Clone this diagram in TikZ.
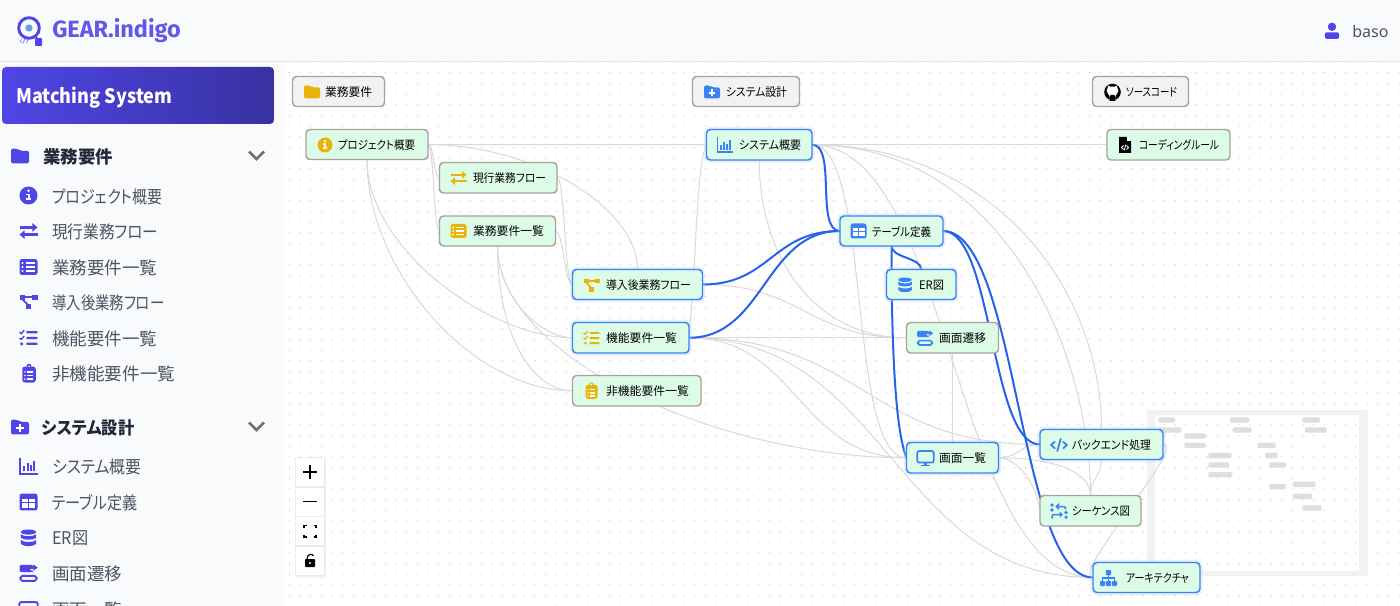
\documentclass[tikz,border=0pt]{standalone}
\usepackage{fontspec}
\usepackage{graphicx}
\setmainfont{Noto Sans CJK JP}[RawFeature=+palt]
\newfontfamily\latinf{Noto Sans}
\newfontfamily\logof{Fira Sans}
\usetikzlibrary{shadings}
\definecolor{ind}{HTML}{4F46E5}
\definecolor{ylw}{HTML}{EAB308}
\definecolor{blu}{HTML}{3B82F6}
\definecolor{edgeg}{HTML}{D9D9D9}
\definecolor{edgeb}{HTML}{2563EB}
\definecolor{nodegr}{HTML}{DCFCE7}
\definecolor{bordg}{HTML}{A8A29E}
\definecolor{side}{HTML}{F9FAFC}
\definecolor{txt}{HTML}{4B5563}
\definecolor{dark}{HTML}{1F2937}
\pgfdeclarelayer{under}
\pgfdeclarelayer{edges}
\pgfsetlayers{under,edges,main}
\newcommand{\fs}[1]{\fontsize{\fpeval{#1*0.75}pt}{\fpeval{#1*0.9}pt}\selectfont}
\newcommand{\twd}[2]{\resizebox{\fpeval{#1*0.75}pt}{\height}{#2}}
\tikzset{
  x=0.75pt,y=-0.75pt,
  lw/.style={line width=\fpeval{#1*0.75*\ics}pt},
  gedge/.style={draw=edgeg,line width=0.75pt},
  bedge/.style={draw=edgeb,line width=1.5pt},
  nodebox/.style={draw=bordg,fill=nodegr,line width=1.1pt,rounded corners=3pt,inner sep=0,outer sep=0},
  hibox/.style={draw=blu,fill=nodegr,line width=1.1pt,rounded corners=3pt,inner sep=0,outer sep=0,
    preaction={draw=blu!35,line width=4pt,opacity=.35}},
  groupbox/.style={draw=bordg,fill=gray!10,line width=1.1pt,rounded corners=3pt,inner sep=0,outer sep=0},
  ntext/.style={anchor=west,inner sep=0,outer sep=0,text=black,font=\fs{11.7}},
  itemtext/.style={anchor=west,inner sep=0,text=txt,font=\fs{17.5}},
  headtext/.style={anchor=west,inner sep=0,text=dark,font=\fs{17.5}\bfseries},
  ctrlbox/.style={draw=black!8,fill=white,line width=.5pt,inner sep=0,outer sep=0},
}
\newcommand{\ico}[4]{\begin{scope}[shift={(#2,#3)},scale=#4/16]\def\ics{#4/16}\csname ic#1\endcsname\end{scope}}
\newcommand{\icoc}[5]{\begin{scope}[shift={(#2,#3)},scale=#4/16]\def\ics{#4/16}\colorlet{icc}{#5}\csname ic#1\endcsname\end{scope}}
\newcommand{\icinfo}{\fill[icc] (0,0) circle (8);
  \fill[white] (0,-4.2) circle (1.3); \fill[white] (-1.8,-1.6) rectangle (1.1,-.2); \fill[white] (-.7,-1.6) rectangle (1.1,3.2); \fill[white] (-1.9,2.6) rectangle (2,4.2);}
\newcommand{\icexch}{\draw[icc,lw=2] (-8,-3.2)--(6,-3.2); \draw[icc,lw=2] (8,3.2)--(-6,3.2);
  \fill[icc] (3.5,-7)--(8,-3.2)--(3.5,.6)--cycle; \fill[icc] (-3.5,-.6)--(-8,3.2)--(-3.5,7)--cycle;}
\newcommand{\iclist}{\fill[icc,rounded corners=1.4] (-8,-7)rectangle(8,7);
  \foreach \yy in {-3.5,0,3.5}{\fill[white] (-5.3,\yy) circle (1); \fill[white] (-2.6,\yy-.8) rectangle (5.5,\yy+.8);}}
\newcommand{\icproj}{\fill[icc] (-8,-6.5)rectangle(-3,-2); \fill[icc] (3,-6.5)rectangle(8,-2); \fill[icc] (-2.5,2)rectangle(2.5,6.5);
  \draw[icc,lw=1.6] (-3,-4.2)--(3,-4.2); \draw[icc,lw=1.6] (-5,-2)--(-.5,2.5);}
\newcommand{\ictask}{\foreach \yy in {-5.2,0,5.2}{\fill[icc,rounded corners=.5] (-2,\yy-1)rectangle(8,\yy+1);}
  \draw[icc,lw=1.2] (-8,-5.2)--(-6.4,-3.8)--(-3.8,-7); \draw[icc,lw=1.2] (-8,0)--(-6.4,1.2)--(-3.8,-1.8); \fill[icc] (-6,5.2) circle (1.5);}
\newcommand{\icclip}{\fill[icc,rounded corners=2] (-6,-6.2)rectangle(6,8); \fill[icc] (0,-6.5) circle (2.2);
  \fill[white] (0,-6.5) circle (.8);
  \foreach \yy in {-1.4,1.9,5}{\fill[white] (-3.6,\yy) circle (.75); \fill[white] (-1.8,\yy-.6) rectangle (3.8,\yy+.6);}}
\newcommand{\icfold}{\fill[icc,rounded corners=1.5] (-8,-6.5)--(-2,-6.5)--(.3,-4.5)--(8,-4.5)--(8,6.5)--(-8,6.5)--cycle;}
\newcommand{\icfoldp}{\icfold \fill[white] (-.8,-2.5)rectangle(.8,4); \fill[white] (-3.3,.0)rectangle(3.3,1.6);}
\newcommand{\icchart}{\draw[icc,lw=1.6] (-7.5,-7.5)--(-7.5,6.8)--(8,6.8);
  \fill[icc] (-4.6,.3)rectangle(-3,4.6); \fill[icc] (-1.6,-2.5)rectangle(0,4.6); \fill[icc] (1.3,-.7)rectangle(2.9,4.6); \fill[icc] (4.2,-4.5)rectangle(5.8,4.6);}
\newcommand{\ictable}{\fill[icc,rounded corners=1.8] (-8,-7.5)rectangle(8,7.5);
  \fill[white] (-6,-3)rectangle(-.8,-.3); \fill[white] (.8,-3)rectangle(6,-.3); \fill[white] (-6,1.3)rectangle(-.8,5.5); \fill[white] (.8,1.3)rectangle(6,5.5);}
\newcommand{\icdb}{\fill[icc] (0,-5.6) ellipse (7.2 and 2.4);
  \fill[icc] (-7.2,-3.6) .. controls (-5,-1) and (5,-1) .. (7.2,-3.6) -- (7.2,-.2) .. controls (5,2.2) and (-5,2.2) .. (-7.2,-.2)--cycle;
  \fill[icc] (-7.2,1.9) .. controls (-5,4.4) and (5,4.4) .. (7.2,1.9) -- (7.2,5.5) .. controls (5,8.4) and (-5,8.4) .. (-7.2,5.5)--cycle;}
\newcommand{\icroute}{\fill[icc,rounded corners=1.6] (-8,-7.2)--(4,-7.2)--(4,-4.8)--(1,-4.8)--(1,-2.2)--(4,-2.2)--(4,-.8)--(-8,-.8)--cycle;
  \fill[icc] (4.6,-5.8) rectangle (1.5,-3.9); \fill[icc] (4.4,-7.6)--(8.2,-4.8)--(4.4,-2)--cycle;
  \draw[icc,lw=1.7,rounded corners=1.4] (-7.2,2.6) rectangle (7.2,7);}
\newcommand{\icdesk}{\draw[icc,lw=1.7,rounded corners=1.5] (-8.2,-7)rectangle(8.2,4.5); \fill[icc] (-1.5,4.5)rectangle(1.5,7); \fill[icc] (-4.2,6.5)rectangle(4.2,8);}
\newcommand{\iccode}{\draw[icc,lw=1.9,line cap=round,line join=round] (-4.5,-3.5)--(-8.4,0)--(-4.5,3.5); \draw[icc,lw=1.9,line cap=round,line join=round] (4.5,-3.5)--(8.4,0)--(4.5,3.5); \draw[icc,lw=1.9,line cap=round] (1.8,-6.5)--(-1.8,6.5);}
\newcommand{\icseq}{\fill[icc] (-7,-6) circle (1.8); \fill[icc] (-7,-1) circle (1.8); \fill[icc] (7,1.5) circle (1.8); \fill[icc] (7,6.2) circle (1.8);
  \draw[icc,lw=1.5,rounded corners=1.5] (6.5,-1.5)--(6.5,-4.5)--(-2,-4.5); \fill[icc] (0,-8)--(-3.6,-4.5)--(0,-1)--cycle;
  \draw[icc,lw=1.5,rounded corners=1.5] (-7,7.5)--(-7,3.5)--(2,3.5); \fill[icc] (.5,.4)--(4,3.5)--(.5,6.6)--cycle;}
\newcommand{\icsite}{\fill[icc,rounded corners=.6] (-2.6,-8)rectangle(2.6,-3); \fill[icc,rounded corners=.6] (-8.5,3)rectangle(-3.5,8); \fill[icc,rounded corners=.6] (-2.6,3)rectangle(2.6,8); \fill[icc,rounded corners=.6] (3.5,3)rectangle(8.5,8);
  \draw[icc,lw=1.2] (-6,3)--(-6,0)--(6,0)--(6,3); \draw[icc,lw=1.2] (0,-3)--(0,3);}
\newcommand{\icfile}{\fill[black] (-6,-8)--(2,-8)--(6,-4)--(6,8)--(-6,8)--cycle; \fill[white] (2,-8)--(2,-4)--(6,-4)--(6,-4.6)--(2.6,-8)--cycle;
  \draw[white,lw=.8] (-1.5,.5)--(-3.5,2.5)--(-1.5,4.5); \draw[white,lw=.8] (1.5,.5)--(3.5,2.5)--(1.5,4.5); \draw[white,lw=.8] (.8,-.3)--(-.8,5.3);}
\newcommand{\icgit}{\fill[black] (0,0) circle (8.3);
  \fill[white] (-2.8,7) .. controls (-2.8,3.5) and (-3.4,3) .. (-4.2,2.2) .. controls (-6.6,.5) and (-6.2,-3) .. (-4.8,-4.2) .. controls (-5.1,-5.2) and (-5,-6) .. (-4.5,-6.4) .. controls (-3.7,-6.4) and (-2.6,-5.6) .. (-2.3,-5.3) .. controls (-.8,-5.6) and (.8,-5.6) .. (2.3,-5.3) .. controls (2.6,-5.6) and (3.7,-6.4) .. (4.5,-6.4) .. controls (5,-6) and (5.1,-5.2) .. (4.8,-4.2) .. controls (6.2,-3) and (6.6,.5) .. (4.2,2.2) .. controls (3.4,3) and (2.8,3.5) .. (2.8,7)--(2.8,9)--(-2.8,9)--cycle;
  \fill[black] (-2.8,5)--(-2.8,9)--(2.8,9)--(2.8,5)--(1.8,3)--(-1.8,3)--cycle;}
\newcommand{\icuser}{\fill[icc] (0,-4.2) circle (4.2); \fill[icc,rounded corners=1.8] (-7.2,8)--(-7.2,5) .. controls (-7.2,2.3) and (-5,1.3) .. (-3,1.3)--(3,1.3) .. controls (5,1.3) and (7.2,2.3) .. (7.2,5)--(7.2,8)--cycle;}
\begin{document}
\begin{tikzpicture}
\useasboundingbox (0,0) rectangle (1400,606);
\clip (0,0) rectangle (1400,606);
\begin{pgfonlayer}{under}
\fill[white] (0,0) rectangle (1400,606);
\foreach \xx in {0,...,105}{\foreach \yy in {0,...,52}{
  \fill[black!25] (278.7+\xx*10.67,62+\yy*10.67) circle (.55);}}
\fill[black!5,even odd rule] (1147,410) rectangle (1368,576) (1155,415) rectangle (1359,571);
\foreach \a/\b/\c/\d in {835/52/885/68,1050/52/1108/68,1267/52/1320/68,835/82/905/98,913/100/978/116,1058/82/1115/98,1275/82/1340/98,913/128/977/144,1132/128/1187/144,985/158/1055/175,1155/158/1193/175,985/187/1048/203,1167/187/1218/203,985/216/1056/232,1167/252/1217/268,1238/245/1306/261,1238/281/1296/297,1268/316/1325/332}{
  \fill[black!13,rounded corners=1] (880+\a/3,400+\b/3) rectangle (880+\c/3,400+\d/3);}
\end{pgfonlayer}
\fill[side] (0,62) rectangle (280,606);
\fill[black!2] (280,62) rectangle (284,606);
\fill[side] (0,0) rectangle (1400,61);
\fill[black!10] (0,61) rectangle (1400,62);
\begin{scope}[shift={(29,28)}]
\draw[ind,line width=2.2pt] (0,0) circle (10.3);
\fill[cyan!60!blue!60] (0,0) circle (3.7);
\draw[ind,line width=1pt] (6,8) -- (9,11);
\fill[ind,rounded corners=.6] (6,10) rectangle (13,18);
\draw[ind!70,line width=.5pt] (-7,11)--(-9,13)--(-7,15) (-3,11)--(-1,13)--(-3,15) (-4,10.5)--(-6,15.5);
\end{scope}
\node[anchor=west,inner sep=0,text=ind!90!white,font=\logof\fs{23.5}\bfseries] (logotxt) at (52,31) {GEAR.indigo};
\icoc{user}{1332}{31}{16}{ind}
\node[anchor=west,inner sep=0,text=txt,font=\latinf\fs{16}] (usr) at (1352,32) {baso};
\shade[left color=ind,right color=ind!70!black,rounded corners=3pt] (2,67) rectangle (274,124);
\node[anchor=west,inner sep=0,text=white,font=\fs{20}\bfseries] (title) at (16,98) {\twd{156}{Matching System}};
\icoc{fold}{20}{156}{18}{ind}
\node[headtext] (h1) at (43,156.5) {\twd{70}{業務要件}};
\draw[black!55,line width=2pt] (249,151.5)--(256.5,159)--(264,151.5);
\icoc{info}{28.5}{195.5}{18}{ind}
\node[itemtext] (i1) at (52,196.5) {\twd{110}{プロジェクト概要}};
\icoc{exch}{28.5}{231}{18}{ind}
\node[itemtext] (i2) at (52,232) {\twd{106}{現行業務フロー}};
\icoc{list}{28.5}{267}{18}{ind}
\node[itemtext] (i3) at (52,267.5) {\twd{105}{業務要件一覧}};
\icoc{proj}{28.5}{302}{18}{ind}
\node[itemtext] (i4) at (52,303) {\twd{112}{導入後業務フロー}};
\icoc{task}{28.5}{338}{18}{ind}
\node[itemtext] (i5) at (52,338.5) {\twd{105}{機能要件一覧}};
\icoc{clip}{29}{373.5}{18}{ind}
\node[itemtext] (i6) at (52,374) {\twd{123}{非機能要件一覧}};
\icoc{foldp}{20}{427}{18}{ind}
\node[headtext] (h2) at (42,427.5) {\twd{92}{システム設計}};
\draw[black!55,line width=2pt] (249,422.5)--(256.5,430)--(264,422.5);
\icoc{chart}{28.5}{466}{18}{ind}
\node[itemtext] (j1) at (52,467) {\twd{89}{システム概要}};
\icoc{table}{28.5}{502}{18}{ind}
\node[itemtext] (j2) at (52,503) {\twd{85}{テーブル定義}};
\icoc{db}{28.5}{538}{17}{ind}
\node[itemtext] (j3) at (52,538.5) {\twd{36}{ER図}};
\icoc{route}{28.5}{573}{18}{ind}
\node[itemtext] (j4) at (52,574) {\twd{70}{画面遷移}};
\icoc{desk}{28.5}{610}{18}{ind}
\node[itemtext] (j5) at (52,610) {\twd{70}{画面一覧}};
\newcommand{\gn}[6]{\node[#1,minimum width={\fpeval{(#5-#3)*0.75}pt},minimum height={\fpeval{(#6-#4)*0.75}pt}] (#2) at ({(#3+#5)/2},{(#4+#6)/2}) {};}
\gn{groupbox}{g1}{292.5}{76.5}{384.5}{106.5}
\gn{groupbox}{g2}{692.5}{76.5}{799.5}{106.5}
\gn{groupbox}{g3}{1092.5}{76.5}{1188.5}{106.5}
\gn{nodebox}{proj}{306}{129.5}{428}{159.5}
\gn{nodebox}{cur}{439.5}{162.5}{557}{193}
\gn{nodebox}{req}{439.5}{216}{555.5}{246}
\gn{hibox}{after}{572.5}{269.5}{702.5}{299.5}
\gn{hibox}{func}{572.5}{322.5}{689}{353}
\gn{nodebox}{nonf}{572.5}{375.5}{701}{406}
\gn{hibox}{sys}{706.5}{129.5}{812}{160}
\gn{hibox}{tbl}{840}{216}{943}{246}
\gn{hibox}{er}{886.5}{269.5}{956}{299.5}
\gn{nodebox}{trans}{906.5}{322.5}{998.5}{353}
\gn{hibox}{scr}{906.5}{442.5}{998.5}{473}
\gn{hibox}{back}{1040}{429.5}{1163}{459.5}
\gn{nodebox}{seq}{1040}{495.5}{1141}{526}
\gn{hibox}{arch}{1093}{562.5}{1200}{592.5}
\gn{nodebox}{rule}{1107}{129.5}{1230}{160}
\begin{pgfonlayer}{edges}
\foreach \s/\t/\c in {proj.east/sys.west/0,proj.east/cur.west/6,proj.east/req.west/6,cur.east/after.west/8,req.east/after.west/8,
  func.east/trans.west/0,after.east/trans.west/100,func.east/scr.west/108,func.east/back.west/175,func.east/arch.west/200,
  sys.east/rule.west/0,sys.east/scr.west/60,sys.east/arch.west/140,back.east/arch.west/25,scr.east/back.west/20}{
  \draw[gedge] (\s) .. controls +(\c,0) and +(-\c,0) .. (\t);}
\draw[gedge] (func.east) .. controls +(8,-90) and +(-10,20) .. (sys.west);
\draw[gedge] (scr.east) .. controls +(20,0) and +(-3,-25) .. (seq.west);
\draw[gedge] (proj.east) .. controls +(105,0) and +(0,-62) .. (after.north);
\draw[gedge] (proj.south) .. controls +(0,90) and +(-82,0) .. (func.west);
\draw[gedge] (proj.south) .. controls +(0,110) and +(-102,0) .. (nonf.west);
\draw[gedge] (req.south) .. controls +(0,50) and +(-32,0) .. (func.west);
\draw[gedge] (req.south) .. controls +(0,90) and +(-40,0) .. (nonf.west);
\draw[gedge] (req.south) .. controls +(0,110) and +(-190,0) .. (scr.west);
\draw[gedge] (sys.south) .. controls +(0,100) and +(-90,0) .. (trans.west);
\draw[gedge] (sys.east) .. controls +(190,0) and +(0,-145) .. (seq.north);
\draw[gedge] (sys.east) .. controls +(180,0) and +(0,-142) .. (back.north);
\draw[gedge] (back.south) .. controls +(0,18) and +(0,-18) .. (seq.north);
\draw[gedge] (trans.south) -- (scr.north);
\draw[gedge] (scr.east) .. controls +(52,0) and +(0,-25) .. (seq.north);
\draw[bedge] (sys.east) .. controls +(25,0) and +(-25,0) .. (tbl.west);
\draw[bedge] (after.east) .. controls +(68,0) and +(-68,0) .. (tbl.west);
\draw[bedge] (func.east) .. controls +(75,0) and +(-75,0) .. (tbl.west);
\draw[bedge] (tbl.south) .. controls +(0,12) and +(0,-12) .. (er.north);
\draw[bedge] (tbl.south) .. controls +(0,104) and +(-11,-27) .. (scr.west);
\draw[bedge] (tbl.east) .. controls +(50,0) and +(-50,0) .. (back.west);
\draw[bedge] (tbl.east) .. controls +(75,0) and +(-75,0) .. (arch.west);
\end{pgfonlayer}
\icoc{fold}{312}{92}{16}{ylw}   \node[ntext] (tg1) at (325,92) {\twd{47}{業務要件}};
\icoc{foldp}{712}{92}{16}{blu}    \node[ntext] (tg2) at (726,92) {\twd{61}{システム設計}};
\ico{git}{1112.5}{92}{16}         \node[ntext] (tg3) at (1126,92) {\twd{51}{ソースコード}};
\icoc{info}{325}{145}{15}{ylw}    \node[ntext] (tproj) at (338,145) {\twd{77}{プロジェクト概要}};
\icoc{exch}{458.5}{178}{16}{ylw}  \node[ntext] (tcur) at (473,178) {\twd{73}{現行業務フロー}};
\icoc{list}{458.5}{231}{16}{ylw}  \node[ntext] (treq) at (473,231.5) {\twd{71}{業務要件一覧}};
\icoc{proj}{591.5}{285}{16}{ylw}  \node[ntext] (tafter) at (606,285) {\twd{85}{導入後業務フロー}};
\icoc{task}{591.5}{338}{16}{ylw}  \node[ntext] (tfunc) at (606,338) {\twd{71}{機能要件一覧}};
\icoc{clip}{591.5}{391}{16}{ylw}  \node[ntext] (tnonf) at (606,391.5) {\twd{83}{非機能要件一覧}};
\icoc{chart}{725}{145}{16}{blu}   \node[ntext] (tsys) at (739,145) {\twd{62}{システム概要}};
\icoc{table}{858.5}{231}{16}{blu} \node[ntext] (ttbl) at (872,231.5) {\twd{59}{テーブル定義}};
\icoc{db}{905}{285}{15}{blu}      \node[ntext] (ter) at (919,285) {\twd{25}{ER図}};
\icoc{route}{925}{338}{16}{blu}   \node[ntext] (ttrans) at (939,338) {\twd{47}{画面遷移}};
\icoc{desk}{925.5}{458}{16}{blu}  \node[ntext] (tscr) at (939,458) {\twd{47}{画面一覧}};
\icoc{code}{1059}{445}{15}{blu}   \node[ntext] (tback) at (1072,445) {\twd{79}{バックエンド処理}};
\icoc{seq}{1059}{511}{16}{blu}    \node[ntext] (tseq) at (1072,511) {\twd{58}{シーケンス図}};
\icoc{site}{1108.5}{578}{16}{blu} \node[ntext] (tarch) at (1126,578) {\twd{63}{アーキテクチャ}};
\ico{file}{1125}{145}{16}         \node[ntext] (trule) at (1139,145) {\twd{80}{コーディングルール}};
\fill[black!5] (294.5,456.5) rectangle (326,577.5);
\node[ctrlbox,minimum width=21.75pt,minimum height=22pt] (zi) at (310,472) {};
\node[ctrlbox,minimum width=21.75pt,minimum height=22pt] (zo) at (310,501.5) {};
\node[ctrlbox,minimum width=21.75pt,minimum height=22pt] (zf) at (310,531) {};
\node[ctrlbox,minimum width=21.75pt,minimum height=22pt] (zl) at (310,561) {};
\draw[black,line width=1.1pt] (303,472)--(317,472) (310,465)--(310,479);
\draw[black,line width=1.1pt] (303,501.5)--(317,501.5);
\draw[black,line width=1pt] (304,528)--(304,525.5)--(306.5,525.5) (313.5,525.5)--(316,525.5)--(316,528) (316,534.5)--(316,537)--(313.5,537) (306.5,537)--(304,537)--(304,534.5);
\fill[black,rounded corners=.6] (305,559) rectangle (315,567);
\draw[black,line width=.9pt] (307,559) .. controls (307,553.5) and (312.5,553.5) .. (313.5,556);
\fill[white] (310,563) circle (1.2);
\end{tikzpicture}
\end{document}
